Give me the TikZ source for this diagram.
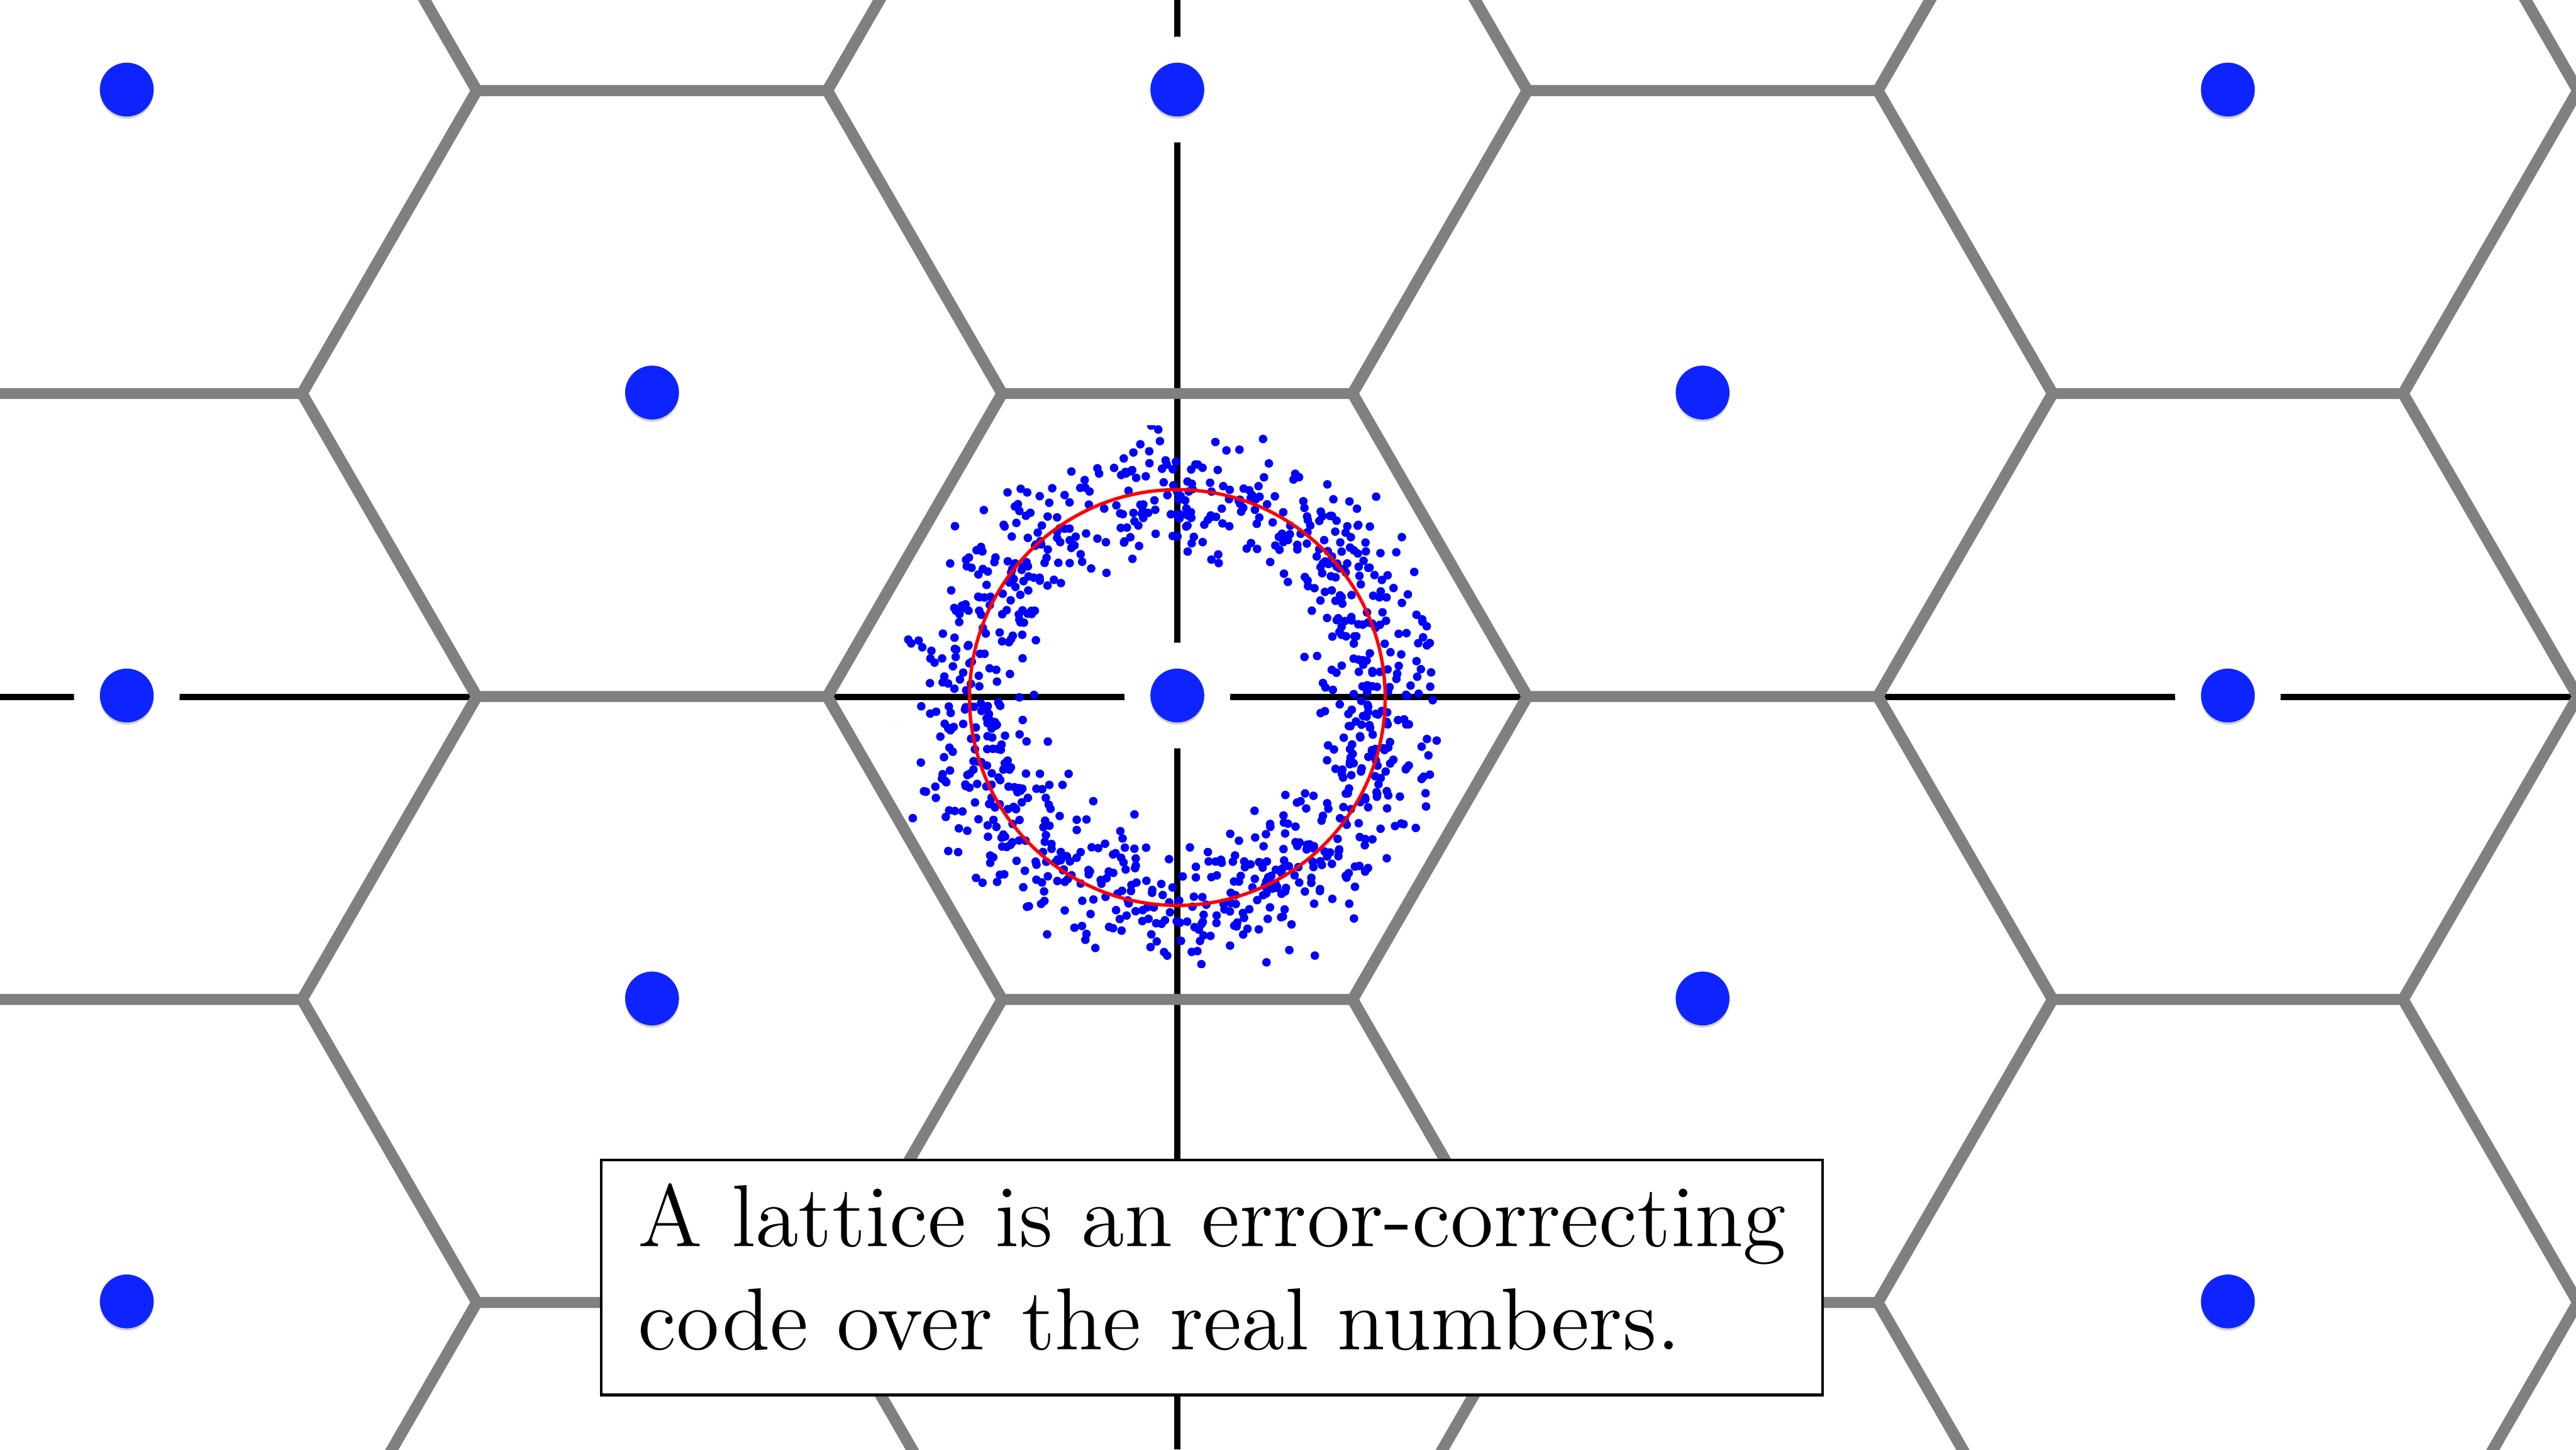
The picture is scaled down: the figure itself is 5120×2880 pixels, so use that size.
\documentclass[tikz,border=0pt]{standalone}
\definecolor{latblue}{RGB}{14,36,255}
\definecolor{hexgray}{RGB}{128,128,128}
\definecolor{scatblue}{RGB}{0,0,255}
\definecolor{ringred}{RGB}{255,0,0}
\begin{document}
\begin{tikzpicture}[x=0.03mm,y=-0.03mm,
  hexline/.style={draw=hexgray,line width=0.645mm,line join=miter},
  axisline/.style={draw=black,line width=0.4mm},
  halo/.style={fill=white},
  dotshadow/.style={fill=black,opacity=0.18},
  latpt/.style={circle,fill=latblue,inner sep=0pt,minimum size=3.21mm},
  scat/.style={fill=scatblue},
  ring/.style={draw=ringred,line width=0.2mm},
  textbox/.style={draw=black,fill=white,line width=0.16mm,inner sep=0pt,anchor=north west,minimum width=72.81mm,minimum height=14.01mm},
  caption/.style={anchor=base west,inner sep=0pt,font=\fontsize{12}{14}\selectfont}]
\path[use as bounding box] (0,0) rectangle (5120,2880);
\clip (0,0) rectangle (5120,2880);
\fill[white] (0,0) rectangle (5120,2880);
% axes
\coordinate (axL) at (0,1385);
\coordinate (axR) at (5120,1385);
\coordinate (axT) at (2340,0);
\coordinate (axB) at (2340,2880);
\draw[axisline] (axL) -- (axR);
\draw[axisline] (axT) -- (axB);
% Voronoi cells (hexagons)
\foreach \k in {-3,...,3}{
 \foreach \m in {-3,...,3}{
  \pgfmathtruncatemacro\parity{mod(abs(\k+\m),2)}
  \ifnum\parity=0
   \pgfmathsetmacro\cx{2340+1044*\k}
   \pgfmathsetmacro\cy{1384+602*\m}
   \draw[hexline] (\cx+695,\cy) -- (\cx+347.5,\cy+602) -- (\cx-347.5,\cy+602) -- (\cx-695,\cy) -- (\cx-347.5,\cy-602) -- (\cx+347.5,\cy-602) -- cycle;
  \fi
 }}
% lattice points
\foreach \k in {-2,...,2}{
 \foreach \m in {-2,...,2}{
  \pgfmathtruncatemacro\parity{mod(abs(\k+\m),2)}
  \ifnum\parity=0
   \pgfmathsetmacro\cx{2340+1044*\k}
   \pgfmathsetmacro\cy{1382+602*\m}
   \fill[halo] (\cx,\cy) circle (105);
   \fill[dotshadow] (\cx,\cy+5) circle (53);
   \node[latpt] (p\k\m) at (\cx,\cy) {};
  \fi
 }}
% noisy points
\begin{scope}
\clip (1780,845) rectangle (2868,1923);
\pgfmathsetseed{4242}
\foreach \i in {1,...,1000}{
  \pgfmathsetmacro\ang{360*rnd}
  \pgfmathsetmacro\rr{413+62*(rand+rand+rand)}
  \fill[scat] (2340,1386) ++(\ang:\rr) circle (8.5);
}
\end{scope}
\node[circle,ring,minimum size=24.78mm,inner sep=0pt] (ringc) at (2340,1386) {};
% caption
\node[textbox] (box) at (1192,2302) {};
\node[caption] (line1) at (1266,2477) {\scalebox{1.245}{A lattice is an error-correcting}};
\node[caption] (line2) at (1266,2682) {\scalebox{1.245}{code over the real numbers.}};
\end{tikzpicture}
\end{document}
